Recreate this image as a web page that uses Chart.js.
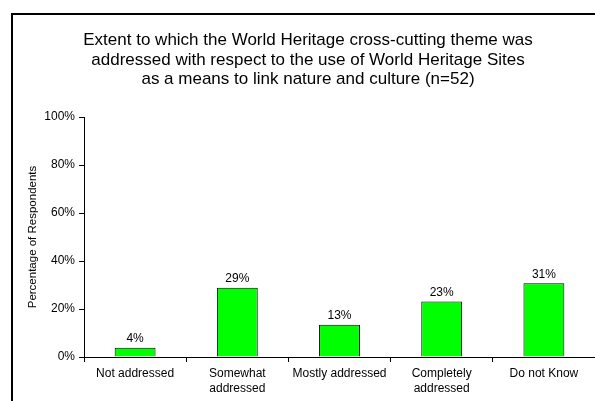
<!DOCTYPE html>
<html>
<head>
<meta charset="utf-8">
<script src="https://cdn.jsdelivr.net/npm/chart.js@4/dist/chart.umd.min.js"></script>
<style>
    body { margin: 0; background: #fff; }
    canvas { display: block; }
</style>
</head>
<body>
<canvas id="heritageChart" width="595" height="401"></canvas>
<script>
const categories = ['Not addressed', ['Somewhat', 'addressed'], 'Mostly addressed', ['Completely', 'addressed'], 'Do not Know'];
const percentValues = [3.85, 28.85, 13.46, 23.08, 30.77];
const yTicks = [0, 20, 40, 60, 80, 100];
const titleLines = [
    'Extent to which the World Heritage cross-cutting theme was',
    'addressed with respect to the use of World Heritage Sites',
    'as a means to link nature and culture (n=52)'
];

const fontFamily = '"Liberation Sans", Arial, sans-serif';

// black frame round the chart (only top and left edges show) + the title
const framePlugin = {
    id: 'frame',
    beforeDraw(chart) {
        const ctx = chart.ctx;
        ctx.save();
        ctx.fillStyle = '#fff';
        ctx.fillRect(0, 0, chart.width, chart.height);
        ctx.fillStyle = '#000';
        ctx.fillRect(11, 13, 2, chart.height);
        ctx.fillRect(11, 13, chart.width, 2);

        ctx.font = '17px ' + fontFamily;
        ctx.textAlign = 'center';
        ctx.textBaseline = 'alphabetic';
        titleLines.forEach((line, i) => {
            ctx.fillText(line, 308, 45 + i * 19.5);
        });
        ctx.restore();
    }
};

// value labels above each bar
const valueLabels = {
    id: 'valueLabels',
    afterDatasetsDraw(chart) {
        const ctx = chart.ctx;
        const meta = chart.getDatasetMeta(0);
        ctx.save();
        ctx.font = '12px ' + fontFamily;
        ctx.fillStyle = '#000';
        ctx.textAlign = 'center';
        ctx.textBaseline = 'alphabetic';
        meta.data.forEach((bar, i) => {
            ctx.fillText(Math.round(percentValues[i]) + '%', bar.x, bar.y - 5.5);
        });
        ctx.restore();
    }
};

const ctx = document.getElementById('heritageChart').getContext('2d');
const chart = new Chart(ctx, {
    type: 'bar',
    data: {
        labels: categories,
        datasets: [{
            data: percentValues,
            backgroundColor: '#00FF00',
            borderColor: '#000',
            borderWidth: 1,
            barPercentage: 0.4,
            categoryPercentage: 1.0
        }]
    },
    options: {
        responsive: false,
        devicePixelRatio: 1,
        animation: false,
        layout: { padding: { left: 0, right: 0, top: 117, bottom: 0 } },
        plugins: {
            legend: { display: false },
            tooltip: { enabled: false },
            title: { display: false }
        },
        scales: {
            x: {
                grid: { display: true, drawOnChartArea: false, color: '#000', tickLength: 5, offset: true },
                border: { color: '#000', width: 1 },
                ticks: {
                    color: '#000',
                    font: { family: fontFamily, size: 12, lineHeight: 1.25 },
                    padding: 4,
                    maxRotation: 0,
                    autoSkip: false
                },
                afterFit(scale) { scale.height = 44; }
            },
            y: {
                min: 0,
                max: 100,
                afterBuildTicks(scale) { scale.ticks = yTicks.map(v => ({ value: v })); },
                grid: { display: true, drawOnChartArea: false, color: '#000', tickLength: 5 },
                border: { color: '#000', width: 1 },
                ticks: {
                    color: '#000',
                    font: { family: fontFamily, size: 12 },
                    padding: 4,
                    callback: v => v + '%'
                },
                title: {
                    display: true,
                    text: 'Percentage of Respondents',
                    color: '#000',
                    font: { family: fontFamily, size: 11.5 },
                    padding: { top: 26, bottom: 0 }
                },
                afterFit(scale) { scale.width = 84; }
            }
        }
    },
    plugins: [framePlugin, valueLabels]
});
</script>
</body>
</html>
